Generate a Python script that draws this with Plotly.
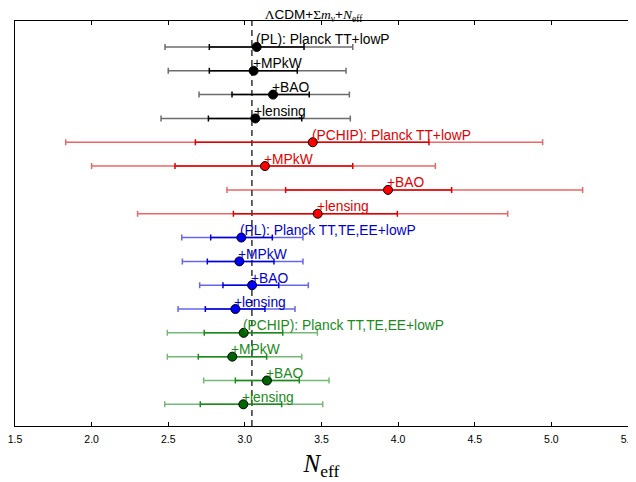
import plotly.graph_objects as go

# ---------------- data ----------------
labels = ["(PL): Planck TT+lowP", "+MPkW", "+BAO", "+lensing",
          "(PCHIP): Planck TT+lowP", "+MPkW", "+BAO", "+lensing",
          "(PL): Planck TT,TE,EE+lowP", "+MPkW", "+BAO", "+lensing",
          "(PCHIP): Planck TT,TE,EE+lowP", "+MPkW", "+BAO", "+lensing"]
neff_mean = [3.077, 3.057, 3.184, 3.068,
             3.443, 3.131, 3.934, 3.475,
             2.977, 2.964, 3.047, 2.938,
             2.992, 2.918, 3.144, 2.990]
lo68 = [2.768, 2.768, 2.916, 2.762,
        2.677, 2.544, 3.266, 2.925,
        2.777, 2.755, 2.857, 2.742,
        2.735, 2.696, 2.938, 2.709]
hi68 = [3.386, 3.342, 3.420, 3.371,
        4.201, 3.704, 4.349, 3.995,
        3.179, 3.190, 3.221, 3.131,
        3.247, 3.142, 3.355, 3.240]
lo95 = [2.479, 2.500, 2.701, 2.453,
        1.831, 2.000, 2.883, 2.300,
        2.588, 2.592, 2.705, 2.564,
        2.494, 2.494, 2.731, 2.477]
hi95 = [3.704, 3.660, 3.682, 3.688,
        4.943, 4.243, 5.204, 4.715,
        3.379, 3.379, 3.414, 3.327,
        3.473, 3.371, 3.549, 3.508]
NEFF_STD = 3.046
x_ticks = [1.5, 2.0, 2.5, 3.0, 3.5, 4.0, 4.5, 5.0, 5.5]
x_ticktext = ["1.5", "2.0", "2.5", "3.0", "3.5", "4.0", "4.5", "5.0", "5.5"]

# group styling (4 rows per group)
group_inner = ["#000000", "#e00000", "#0000e0", "#1a8a1a"]
group_outer = ["rgba(60,60,60,0.75)", "rgba(225,0,0,0.6)", "rgba(0,0,225,0.6)", "rgba(26,138,26,0.6)"]
group_marker = ["#000000", "#ff0000", "#0000ff", "#006400"]
group_text = ["#000000", "#e00000", "#0000cc", "#1a8a1a"]

n = len(labels)
ypos = [n - i for i in range(n)]

fig = go.Figure()
for g in range(4):
    idx = list(range(4 * g, 4 * g + 4))
    xs = [neff_mean[i] for i in idx]
    ys = [ypos[i] for i in idx]
    # 95% bars
    fig.add_trace(go.Scatter(
        x=xs, y=ys, mode="markers", marker=dict(size=1, opacity=0),
        error_x=dict(type="data", symmetric=False,
                     array=[hi95[i] - neff_mean[i] for i in idx],
                     arrayminus=[neff_mean[i] - lo95[i] for i in idx],
                     color=group_outer[g], thickness=1.5, width=3),
        showlegend=False, hoverinfo="skip"))
    # 68% bars + points
    fig.add_trace(go.Scatter(
        x=xs, y=ys, mode="markers",
        marker=dict(size=9, color=group_marker[g], line=dict(color="black", width=1)),
        error_x=dict(type="data", symmetric=False,
                     array=[hi68[i] - neff_mean[i] for i in idx],
                     arrayminus=[neff_mean[i] - lo68[i] for i in idx],
                     color=group_inner[g], thickness=1.5, width=3),
        showlegend=False))
    for i in idx:
        fig.add_annotation(x=neff_mean[i], y=ypos[i], text=labels[i], showarrow=False,
                           xanchor="left", yanchor="middle", xshift=-3, yshift=7,
                           font=dict(family="Liberation Sans, Arial", size=13.8, color=group_text[g]))

# reference line
fig.add_shape(type="line", x0=NEFF_STD, x1=NEFF_STD, y0=0, y1=1, xref="x", yref="paper",
              line=dict(color="black", width=1.2, dash="6px,4px"), layer="below")

serif = "Liberation Serif, Times New Roman, serif"
W, H = 628, 474
fig.update_layout(
    width=W, height=H,
    margin=dict(l=7, r=8, t=13, b=56, autoexpand=False),
    paper_bgcolor="white", plot_bgcolor="white",
    title=dict(
        text=("<span style='font-family:Liberation Serif'>Λ</span>CDM+"
              "<span style='font-family:Liberation Serif'>Σ<i>m</i><sub>ν</sub></span>+"
              "<span style='font-family:Liberation Serif'><i>N</i><sub>eff</sub></span>"),
        x=0.487, xref="paper", xanchor="center",
        y=1 - 6.5 / H, yref="container", yanchor="middle",
        font=dict(family="Liberation Sans, Arial", size=13.5, color="black"),
        automargin=False),
    xaxis=dict(range=[1.5, 5.5], tickvals=x_ticks, ticktext=x_ticktext,
               ticks="inside", ticklen=4, tickwidth=1, tickcolor="black",
               showline=True, linecolor="black", linewidth=1.2, mirror="ticks",
               showgrid=False, zeroline=False, automargin=False,
               ticklabelstandoff=3, ticklabeloverflow="allow",
               tickfont=dict(family="Liberation Sans, Arial", size=10.5, color="black"),
               title=dict(text="<i>N</i><sub>eff</sub>", standoff=10,
                          font=dict(family=serif, size=25, color="black"))),
    yaxis=dict(range=[0.09, 17.09], showticklabels=False, ticks="",
               showline=True, linecolor="black", linewidth=1.2, mirror=True,
               showgrid=False, zeroline=False, automargin=False),
)

fig.write_html("out.html")
